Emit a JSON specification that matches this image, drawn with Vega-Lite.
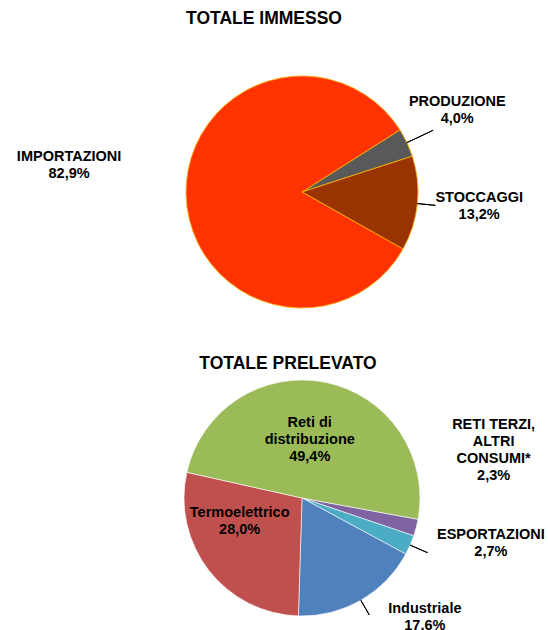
{
  "$schema": "https://vega.github.io/schema/vega-lite/v6.json",
  "padding": {"left": 16, "top": 0, "right": 0, "bottom": 0},
  "width": 496,
  "height": 630,
  "config": {
    "view": {"stroke": null},
    "font": "Liberation Sans",
    "text": {"font": "Liberation Sans", "fontSize": 14.5, "fontWeight": "bold", "lineBreak": "\n", "lineHeight": 17, "color": "#000000"}
  },
  "datasets": {
    "grafici": [
      {"grafico": "TOTALE IMMESSO"},
      {"grafico": "TOTALE PRELEVATO"}
    ],
    "immesso": [
      {"grafico": "TOTALE IMMESSO", "voce": "PRODUZIONE", "quota": 4.0, "n": 1, "etichetta": "PRODUZIONE\n4,0%"},
      {"grafico": "TOTALE IMMESSO", "voce": "STOCCAGGI", "quota": 13.2, "n": 2, "etichetta": "STOCCAGGI\n13,2%"},
      {"grafico": "TOTALE IMMESSO", "voce": "IMPORTAZIONI", "quota": 82.9, "n": 3, "etichetta": "IMPORTAZIONI\n82,9%"}
    ],
    "prelevato": [
      {"grafico": "TOTALE PRELEVATO", "voce": "RETI TERZI, ALTRI CONSUMI*", "quota": 2.3, "n": 1, "etichetta": "RETI TERZI,\nALTRI\nCONSUMI*\n2,3%"},
      {"grafico": "TOTALE PRELEVATO", "voce": "ESPORTAZIONI", "quota": 2.7, "n": 2, "etichetta": "ESPORTAZIONI\n2,7%"},
      {"grafico": "TOTALE PRELEVATO", "voce": "Industriale", "quota": 17.6, "n": 3, "etichetta": "Industriale\n17,6%"},
      {"grafico": "TOTALE PRELEVATO", "voce": "Termoelettrico", "quota": 28.0, "n": 4, "etichetta": "Termoelettrico\n28,0%"},
      {"grafico": "TOTALE PRELEVATO", "voce": "Reti di distribuzione", "quota": 49.4, "n": 5, "etichetta": "Reti di\ndistribuzione\n49,4%"}
    ]
  },
  "encoding": {
    "y": {"field": "grafico", "type": "nominal", "axis": null,
      "scale": {"type": "point", "domain": ["TOTALE IMMESSO", "TOTALE PRELEVATO"], "range": [192, 498], "padding": 0}}
  },
  "resolve": {"scale": {"theta": "independent", "color": "independent"}},
  "layer": [
    {
      "data": {"name": "grafici"},
      "transform": [{"filter": "datum.grafico == 'TOTALE IMMESSO'"}],
      "mark": {"type": "text", "fontSize": 17.5, "baseline": "alphabetic", "dx": -38, "dy": -168},
      "encoding": {"text": {"field": "grafico"}}
    },
    {
      "data": {"name": "grafici"},
      "transform": [{"filter": "datum.grafico == 'TOTALE PRELEVATO'"}],
      "mark": {"type": "text", "fontSize": 17.5, "baseline": "alphabetic", "dx": -14, "dy": -129},
      "encoding": {"text": {"field": "grafico"}}
    },
    {
      "data": {"name": "immesso"},
      "encoding": {
        "theta": {"field": "quota", "type": "quantitative", "stack": true, "scale": {"range": [1.0053, 7.2885]}},
        "order": {"field": "n", "type": "quantitative"}
      },
      "layer": [
        {
          "mark": {"type": "arc", "radius": 116, "stroke": "#FFB400", "strokeWidth": 0.8},
          "encoding": {
            "color": {"field": "voce", "type": "nominal", "legend": null,
              "scale": {"domain": ["PRODUZIONE", "STOCCAGGI", "IMPORTAZIONI"], "range": ["#595959", "#993300", "#FF3300"]}}
          }
        },
        {
          "mark": {"type": "arc", "outerRadius": 145, "innerRadius": 116, "padAngle": 3.14, "filled": false, "color": "#000000", "strokeWidth": 1},
          "encoding": {"opacity": {"condition": {"test": "datum.voce == 'PRODUZIONE'", "value": 1}, "value": 0}}
        },
        {
          "mark": {"type": "arc", "outerRadius": 134, "innerRadius": 116, "padAngle": 3.14, "filled": false, "color": "#000000", "strokeWidth": 1},
          "encoding": {"opacity": {"condition": {"test": "datum.voce == 'STOCCAGGI'", "value": 1}, "value": 0}}
        },
        {
          "mark": {"type": "text", "radius": 176, "dx": -4, "dy": -15},
          "encoding": {"text": {"condition": {"test": "datum.voce == 'PRODUZIONE'", "field": "etichetta"}, "value": ""}}
        },
        {
          "mark": {"type": "text", "radius": 164, "dx": 14, "dy": -10},
          "encoding": {"text": {"condition": {"test": "datum.voce == 'STOCCAGGI'", "field": "etichetta"}, "value": ""}}
        },
        {
          "mark": {"type": "text", "radius": 233, "dx": 0, "dy": -40.5},
          "encoding": {"text": {"condition": {"test": "datum.voce == 'IMPORTAZIONI'", "field": "etichetta"}, "value": ""}}
        }
      ]
    },
    {
      "data": {"name": "prelevato"},
      "encoding": {
        "theta": {"field": "quota", "type": "quantitative", "stack": true, "scale": {"range": [1.7523, 8.0355]}},
        "order": {"field": "n", "type": "quantitative"}
      },
      "layer": [
        {
          "mark": {"type": "arc", "radius": 118, "stroke": "#FFFFFF", "strokeWidth": 0.6},
          "encoding": {
            "color": {"field": "voce", "type": "nominal", "legend": null,
              "scale": {"domain": ["RETI TERZI, ALTRI CONSUMI*", "ESPORTAZIONI", "Industriale", "Termoelettrico", "Reti di distribuzione"],
                        "range": ["#8064A2", "#4BACC6", "#4F81BD", "#C0504D", "#9BBB59"]}}
          }
        },
        {
          "mark": {"type": "arc", "outerRadius": 137, "innerRadius": 118, "padAngle": 3.14, "filled": false, "color": "#000000", "strokeWidth": 1},
          "encoding": {"opacity": {"condition": {"test": "datum.n == 2", "value": 1}, "value": 0}}
        },
        {
          "mark": {"type": "arc", "outerRadius": 135, "innerRadius": 118, "padAngle": 3.14, "filled": false, "color": "#000000", "strokeWidth": 1},
          "encoding": {"opacity": {"condition": {"test": "datum.n == 3", "value": 1}, "value": 0}}
        },
        {
          "mark": {"type": "text", "radius": 199, "dx": -1, "dy": -123},
          "encoding": {"text": {"condition": {"test": "datum.n == 1", "field": "etichetta"}, "value": ""}}
        },
        {
          "mark": {"type": "text", "radius": 206, "dx": 0, "dy": -45},
          "encoding": {"text": {"condition": {"test": "datum.n == 2", "field": "etichetta"}, "value": ""}}
        },
        {
          "mark": {"type": "text", "radius": 140, "dx": 53, "dy": -10},
          "encoding": {"text": {"condition": {"test": "datum.n == 3", "field": "etichetta"}, "value": ""}}
        },
        {
          "mark": {"type": "text", "radius": 65, "dx": -11, "dy": -25},
          "encoding": {"text": {"condition": {"test": "datum.n == 4", "field": "etichetta"}, "value": ""}}
        },
        {
          "mark": {"type": "text", "radius": 59, "dx": -4, "dy": -17},
          "encoding": {"text": {"condition": {"test": "datum.n == 5", "field": "etichetta"}, "value": ""}}
        }
      ]
    }
  ]
}
